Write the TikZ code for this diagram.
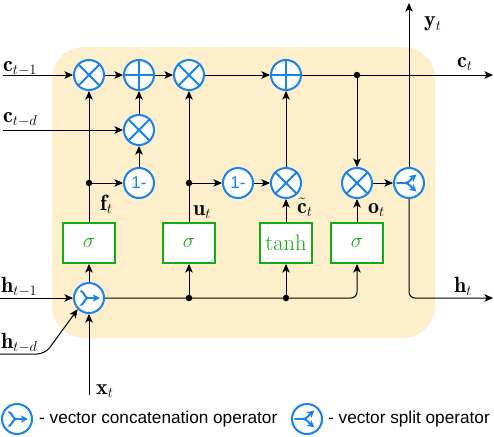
\documentclass[tikz,border=0pt]{standalone}
\usepackage{amsmath}
\usepackage{fontspec}
\setsansfont{Liberation Sans}
\usetikzlibrary{arrows.meta,calc}
\definecolor{opblue}{RGB}{25,130,235}
\definecolor{gatgreen}{RGB}{20,170,20}
\definecolor{bgyellow}{RGB}{253,239,203}
\begin{document}
\begin{tikzpicture}[x=1pt,y=-1pt,
  op/.style={circle,draw=opblue,line width=2pt,fill=white,minimum size=30pt,inner sep=0pt,text=opblue,font=\sffamily\fontsize{17}{19}\selectfont},
  gate/.style={rectangle,draw=gatgreen,line width=2pt,fill=white,minimum width=52pt,minimum height=40pt,inner sep=0pt,text=gatgreen,font=\fontsize{22.5}{26}\selectfont},
  lbl/.style={inner sep=0pt,anchor=base west,font=\fontsize{22}{26}\selectfont},
  lgtext/.style={inner sep=0pt,anchor=west,font=\sffamily\fontsize{17.2}{20}\selectfont},
  conn/.style={line width=1pt,-{Stealth[length=8.5pt,width=7.5pt,inset=2pt]}},
  dot/.style={circle,fill=black,minimum size=6.5pt,inner sep=0pt},
  sym/.style={opblue,line width=2pt},
  symarrow/.style={opblue,line width=2pt,-{Stealth[length=7pt,width=7pt,inset=1.5pt]}},
  concatg/.pic={
    \draw[sym,line cap=round] (-8,-7) .. controls (-5,-6) and (-4,0) .. (-1,0);
    \draw[sym,line cap=round] (-8,7) .. controls (-5,6) and (-4,0) .. (-1,0);
    \draw[symarrow] (-2,0) -- (11,0);
  },
  splitg/.pic={
    \draw[sym,line cap=round] (-12,0) -- (-3,0);
    \draw[symarrow] (-4,0) .. controls (0,0) and (2,-4) .. (7.5,-8.5);
    \draw[symarrow] (-4,0) .. controls (0,0) and (2,4) .. (7.5,8.5);
  },
]
\useasboundingbox (0,0) rectangle (494,436);
\fill[bgyellow,rounded corners=32pt] (52,47) rectangle (435,338);

% operators
\node[op] (m1) at (89,75) {};
\node[op] (a1) at (139,75) {};
\node[op] (m2) at (189,75) {};
\node[op] (a2) at (286,75) {};
\node[op] (m3) at (139,130) {};
\node[op] (o1) at (139,183) {1-};
\node[op] (o2) at (238,183) {1-};
\node[op] (m4) at (286,183) {};
\node[op] (m5) at (357,183) {};
\node[op] (sp) at (409,183) {};
\node[op] (cc) at (89,298) {};

% gates
\node[gate] (g1) at (89,243) {$\sigma$};
\node[gate] (g2) at (189,243) {$\sigma$};
\node[gate] (g3) at (286,243) {$\tanh$};
\node[gate] (g4) at (357,243) {$\sigma$};

% junction dots
\node[dot] (d1) at (89,183) {};
\node[dot] (d2) at (189,183) {};
\node[dot] (d3) at (357,75) {};
\node[dot] (d4) at (189,298) {};
\node[dot] (d5) at (286,298) {};

% glyphs
\foreach \n in {m1,m2,m3,m4,m5}
  \draw[sym] (\n.45) -- (\n.225) (\n.135) -- (\n.315);
\foreach \n in {a1,a2}
  \draw[sym] (\n.north) -- (\n.south) (\n.west) -- (\n.east);
\pic at (cc) {concatg};
\pic at (sp) {splitg};

% free ends
\coordinate (cin) at (3,75);
\coordinate (cdin) at (3,130);
\coordinate (hin) at (0,298);
\coordinate (hdin) at (0,354);
\coordinate (hdbend) at (45,354);
\coordinate (xin) at (89,395);
\coordinate (cout) at (493,75);
\coordinate (yout) at (409,3);
\coordinate (hout) at (493,298);
\coordinate (hcorner) at (409,298);
\coordinate (g4corner) at (357,298);

% connectors
\draw[conn] (cin) -- (m1);
\draw[conn] (m1) -- (a1);
\draw[conn] (a1) -- (m2);
\draw[conn] (m2) -- (a2);
\draw[conn] (a2) -- (cout);
\draw[conn] (d3) -- (m5);
\draw[conn] (cdin) -- (m3);
\draw[conn] (m3) -- (a1);
\draw[conn] (o1) -- (m3);
\draw[conn] (d1) -- (o1);
\draw[conn] (g1) -- (m1);
\draw[conn] (g2) -- (m2);
\draw[conn] (d2) -- (o2);
\draw[conn] (o2) -- (m4);
\draw[conn] (m4) -- (a2);
\draw[conn] (g3) -- (m4);
\draw[conn] (g4) -- (m5);
\draw[conn] (m5) -- (sp);
\draw[conn] (cc) -- (g1);
\draw[conn] (d4) -- (g2);
\draw[conn] (d5) -- (g3);
\draw[conn,rounded corners=6pt] (cc.east) -- (g4corner) -- (g4.south);
\draw[conn] (hin) -- (cc);
\draw[conn,rounded corners=8pt] (hdin) -- (hdbend) -- (cc.225);
\draw[conn] (xin) -- (cc);
\draw[conn] (sp) -- (yout);
\draw[conn,rounded corners=6pt] (sp) -- (hcorner) -- (hout);

% labels
\node[lbl] (lc1) at (3,71) {$\mathbf{c}_{t-1}$};
\node[lbl] (lcd) at (3,122) {$\mathbf{c}_{t-d}$};
\node[lbl] (lh1) at (1,292) {$\mathbf{h}_{t-1}$};
\node[lbl] (lhd) at (1,348) {$\mathbf{h}_{t-d}$};
\node[lbl] (lx) at (96,394) {$\mathbf{x}_t$};
\node[lbl] (lf) at (100,210) {$\mathbf{f}_t$};
\node[lbl] (lu) at (193,215) {$\mathbf{u}_t$};
\node[lbl] (lct) at (297,213) {$\tilde{\mathbf{c}}_t$};
\node[lbl] (lo) at (368,213) {$\mathbf{o}_t$};
\node[lbl] (lc) at (457,67) {$\mathbf{c}_t$};
\node[lbl] (ly) at (424,27) {$\mathbf{y}_t$};
\node[lbl] (lh) at (454,292) {$\mathbf{h}_t$};

% legend
\node[op] (lgc) at (17,419) {};
\pic at (lgc) {concatg};
\node[lgtext] (lt1) at (39,419) {- vector concatenation operator};
\node[op] (lgs) at (307,419) {};
\pic at (lgs) {splitg};
\node[lgtext] (lt2) at (328,419) {- vector split operator};
\end{tikzpicture}
\end{document}
